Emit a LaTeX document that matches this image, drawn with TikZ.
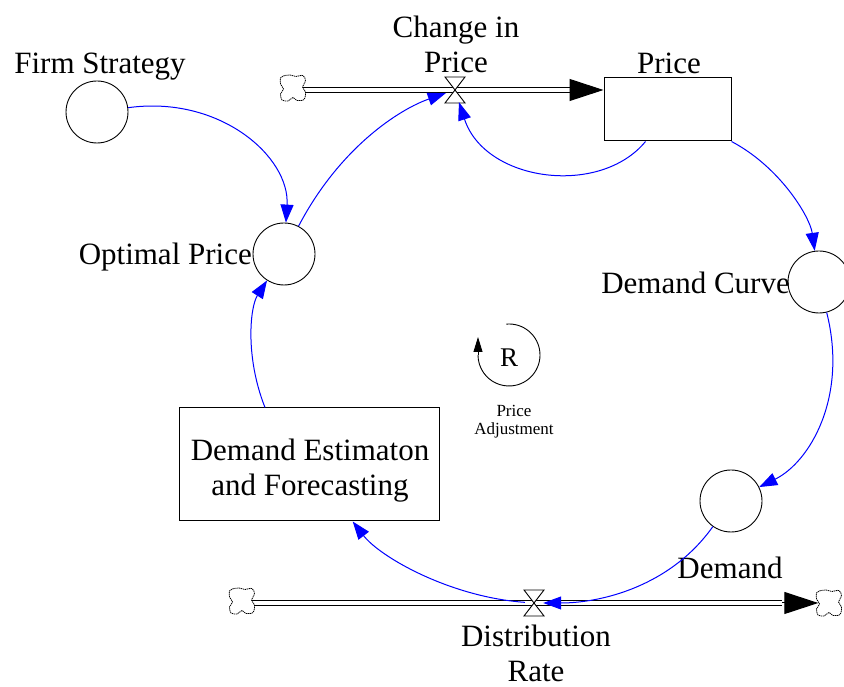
\documentclass[tikz,border=0pt]{standalone}
\usepackage{fontspec}
\setmainfont{Liberation Serif}
\usetikzlibrary{arrows.meta}
\begin{document}
\begin{tikzpicture}[x=1pt,y=1pt,
 aux/.style={circle,draw,line width=0.9pt,minimum size=62pt,inner sep=0pt},
 stockbox/.style={rectangle,draw,line width=1pt,inner sep=0pt},
 lbl/.style={font=\fontsize{31}{35}\selectfont,align=center,inner sep=0pt},
 small/.style={font=\fontsize{17}{18}\selectfont,align=center,inner sep=0pt},
 link/.style={blue,line width=1pt,-{Triangle[length=18pt,width=13pt]}},
 pipe/.style={double=white,double distance=3.5pt,line width=1pt},
 flowhead/.style={-{Triangle[length=34pt,width=22pt]},line width=1pt},
 cloudspot/.style={circle,minimum size=25pt,inner sep=0pt},
 cloudline/.style={draw,fill=white,dash pattern=on 1.3pt off 0.7pt,line width=0.8pt},
 valvebox/.style={rectangle,minimum width=18pt,minimum height=24pt,inner sep=0pt},
 valveshape/.style={fill=white,draw,line width=0.9pt},
]
\useasboundingbox (0,0) rectangle (844,687);
\newcommand{\cloudblob}[1]{%
  \draw[cloudline,shift={(#1)}] plot[smooth cycle,tension=0.55] coordinates {
   (-10,12) (-3,13) (3,11.5) (10,12.5) (12.5,7) (9.5,1) (12.5,-4) (11,-11.5)
   (4,-12.5) (0,-9.5) (-5,-13) (-11,-12) (-12.5,-6) (-9.5,-1) (-12.5,4) (-12.5,10)};}
% nodes
\node[aux] (fs) at (97,575) {};
\node[lbl] (fsl) at (100,620) {Firm Strategy};
\node[aux] (op) at (284,433) {};
\node[lbl,anchor=east] (opl) at (252,430) {Optimal Price};
\node[stockbox,minimum width=127pt,minimum height=63pt] (price) at (667.5,577.5) {};
\node[lbl] (pricel) at (669,624) {Price};
\node[valvebox] (v1) at (455,597) {};
\node[lbl,anchor=south] (v1l) at (456,614) {Change in\\Price};
\node[cloudspot] (c1) at (293,599) {};
\node[aux] (dc) at (819,405) {};
\node[lbl,anchor=east] (dcl) at (790,404) {Demand Curve};
\node[aux] (dem) at (731,186) {};
\node[lbl] (deml) at (730,119) {Demand};
\node[valvebox] (v2) at (534,84) {};
\node[lbl,anchor=north] (v2l) at (536,62) {Distribution\\Rate};
\node[cloudspot] (c2) at (242,86) {};
\node[cloudspot] (c3) at (829,84) {};
\node[stockbox,minimum width=260pt,minimum height=113pt] (de) at (309,222.5) {};
\node[lbl] (detext) at (310,216) {Demand Estimaton\\and Forecasting};
\node[font=\fontsize{27}{30}\selectfont,inner sep=0pt] (r) at (509,329) {R};
\node[small,anchor=north] (rl) at (514,282) {Price\\Adjustment};
% flow pipes
\coordinate (pin) at (price.west |- v1);
\draw[pipe] (c1.center |- v1) -- ([xshift=-34pt]pin);
\draw[flowhead] ([xshift=-34pt]pin) -- (pin);
\draw[pipe] (c2.center |- v2) -- ([xshift=-34pt]c3.west);
\draw[flowhead] ([xshift=-34pt]c3.west) -- ([xshift=2pt]c3.west);
\cloudblob{c1}
\cloudblob{c2}
\cloudblob{c3}
% valves
\draw[valveshape] (v1.center) -- ++(-10,13) -- ++(20,0) -- cycle;
\draw[valveshape] (v1.center) -- ++(-10,-13) -- ++(20,0) -- cycle;
\draw[valveshape] (v2.center) -- ++(-10,13) -- ++(20,0) -- cycle;
\draw[valveshape] (v2.center) -- ++(-10,-13) -- ++(20,0) -- cycle;
% loop symbol
\draw[line width=0.9pt] (509,332) ++(95:31) arc[start angle=95,end angle=-180,radius=31];
\draw[line width=0.9pt,-{Triangle[length=15pt,width=9pt]}] (478,332) -- (478,350);
% causal links
\draw[link] (fs) .. controls (220,592) and (290,530) .. (op);
\draw[link] (op) .. controls (340,540) and (400,578) .. (v1);
\draw[link] ([xshift=-22pt]price.south) .. controls (600,490) and (485,505) .. (v1);
\draw[link] (price.south east) .. controls (780,520) and (810,470) .. (dc);
\draw[link] (dc) .. controls (848,290) and (810,225) .. (dem);
\draw[link] (dem) .. controls (670,100) and (600,84) .. (v2);
\draw[link] (v2) .. controls (450,90) and (380,130) .. (de);
\draw[link] ([xshift=-44pt]de.north) .. controls (245,330) and (250,380) .. (op);
\end{tikzpicture}
\end{document}
